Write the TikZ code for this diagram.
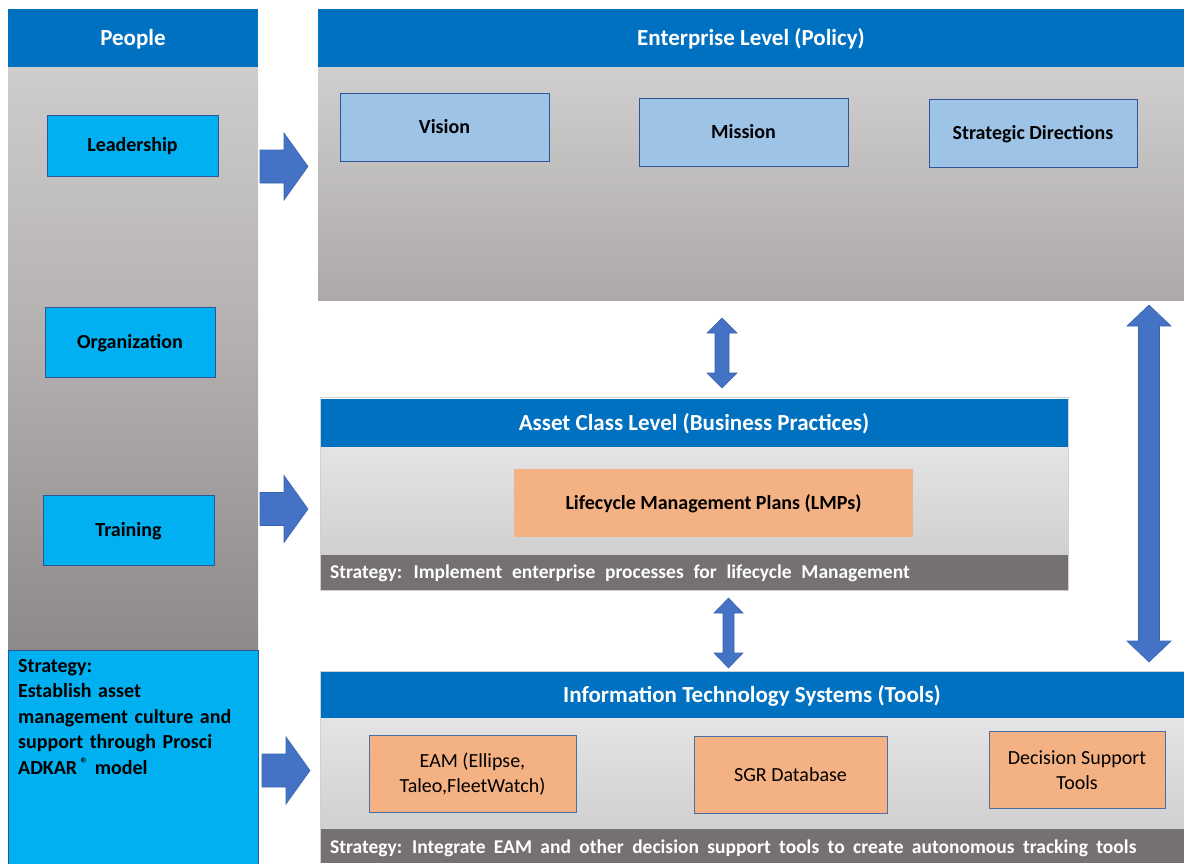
\documentclass[tikz,border=0pt]{standalone}
\usepackage{fontspec}
\setmainfont{Carlito}
\definecolor{hdrblue}{HTML}{0070C0}
\definecolor{skyblue}{HTML}{00B0F0}
\definecolor{paleblue}{HTML}{9DC3E6}
\definecolor{peach}{HTML}{F4B183}
\definecolor{arrowblue}{HTML}{4472C4}
\definecolor{arrowedge}{HTML}{3A64B0}
\definecolor{boxedge}{HTML}{2F5597}
\definecolor{peachedge}{HTML}{4A6FA0}
\definecolor{stratgray}{HTML}{767171}
\definecolor{panelline}{HTML}{D0D0D0}
% wider word gaps for the strategy texts
\newcommand\widegaps[1]{\spaceskip=#1 plus 0.1em\relax}
\tikzset{
  capcentred/.style={text height=#1, text depth=0pt},
  hdr/.style={fill=hdrblue, draw=none, text=white, font=\bfseries\fontsize{23}{27}\selectfont, capcentred=14.8pt},
  cyanbox/.style={fill=skyblue, draw=boxedge, line width=0.8pt, font=\bfseries\fontsize{20}{24}\selectfont, inner sep=0pt, capcentred=12.9pt},
  policybox/.style={fill=paleblue, draw=boxedge, line width=0.8pt, font=\bfseries\fontsize{20}{24}\selectfont, inner sep=0pt, capcentred=12.9pt},
  toolbox/.style={fill=peach, draw=peachedge, line width=0.8pt, font=\fontsize{20}{25}\selectfont, align=center, inner sep=0pt},
  planbox/.style={fill=peach, draw=none, font=\bfseries\fontsize{20}{24}\selectfont, inner sep=0pt, capcentred=12.9pt},
  stratbar/.style={fill=stratgray, draw=none},
  strattext/.style={text=white, font=\bfseries\fontsize{19.5}{23}\selectfont, anchor=west, inner sep=0pt, capcentred=12.6pt},
  blockarrow/.style={fill=arrowblue, draw=arrowedge, line width=0.6pt, line join=miter},
}
\begin{document}
\begin{tikzpicture}[x=1pt, y=-1pt]
\useasboundingbox (0,0) rectangle (1184,863);
\fill[white] (0,0) rectangle (1184,863);

% ---------- People column ----------
\shade[top color={rgb,255:red,206;green,204;blue,204}, bottom color={rgb,255:red,142;green,138;blue,138}, middle color={rgb,255:red,178;green,174;blue,174}]
  (8,66) rectangle (258,650);
\node[hdr, minimum width=250pt, minimum height=58pt] (people) at (133,38) {People};
\node[cyanbox, minimum width=171pt, minimum height=61pt] (lead) at (132.5,145.5) {Leadership};
\node[cyanbox, minimum width=170pt, minimum height=70pt] (org) at (130,342) {Organization};
\node[cyanbox, minimum width=171pt, minimum height=70pt] (train) at (128.5,530) {Training};
\node[fill=skyblue, draw=boxedge, line width=0.6pt, minimum width=250pt, minimum height=216pt, anchor=north west, inner sep=0pt] (pstrat) at (8,650) {};
\node[anchor=north west, inner sep=0pt, align=left, text width=238pt,
      font=\bfseries\fontsize{20}{25.5}\selectfont] (pstrattext) at (18,659)
  {\widegaps{0.33em}Strategy:\\Establish asset\\management culture and\\support through Prosci\\ADKAR\,\raisebox{0.28em}{\fontsize{15}{15}\selectfont ®} model};

% ---------- Enterprise level ----------
\shade[top color={rgb,255:red,208;green,206;blue,206}, bottom color={rgb,255:red,173;green,169;blue,169}]
  (318,66) rectangle (1184,300);
\node[hdr, minimum width=866pt, minimum height=58pt] (ent) at (751,38) {Enterprise Level (Policy)};
\node[policybox, minimum width=209pt, minimum height=68pt] (vision) at (444.5,127) {Vision};
\node[policybox, minimum width=209pt, minimum height=68pt] (mission) at (743.5,132) {Mission};
\node[policybox, minimum width=208pt, minimum height=68pt] (strat) at (1033,133) {Strategic Directions};

% ---------- Asset class level ----------
\shade[top color={rgb,255:red,228;green,228;blue,228}, bottom color={rgb,255:red,208;green,208;blue,208}]
  (320,446) rectangle (1068,555);
\node[hdr, minimum width=748pt, minimum height=48pt] (asset) at (694,423) {Asset Class Level (Business Practices)};
\node[planbox, minimum width=399pt, minimum height=68pt] (lmp) at (713.5,503) {Lifecycle Management Plans (LMPs)};
\node[stratbar, minimum width=748pt, minimum height=35pt, anchor=north west, inner sep=0pt] (abar) at (320,555) {};
\node[strattext] (abartext) at (330,572.5) {\widegaps{0.5em}Strategy: Implement enterprise processes for lifecycle Management};
\draw[panelline, line width=0.8pt] (320,397.5) rectangle (1068,590.5);

% ---------- Information technology systems ----------
\shade[top color={rgb,255:red,228;green,228;blue,228}, bottom color={rgb,255:red,208;green,208;blue,208}]
  (320,718) rectangle (1184,829);
\node[hdr, minimum width=864pt, minimum height=46pt] (its) at (752,695) {Information Technology Systems (Tools)};
\node[toolbox, minimum width=207pt, minimum height=77pt] (eam) at (472.5,774) {EAM (Ellipse,\\Taleo,FleetWatch)};
\node[toolbox, minimum width=193pt, minimum height=77pt] (sgr) at (790.5,774.5) {SGR Database};
\node[toolbox, minimum width=176pt, minimum height=77pt] (dst) at (1077,770) {Decision Support\\Tools};
\node[stratbar, minimum width=864pt, minimum height=34pt, anchor=north west, inner sep=0pt] (ibar) at (320,829) {};
\node[strattext] (ibartext) at (330,847) {\widegaps{0.43em}Strategy: Integrate EAM and other decision support tools to create autonomous tracking tools};
\draw[panelline, line width=0.8pt] (320,671.5) -- (1184,671.5);
\draw[panelline, line width=0.8pt] (320,671.5) -- (320,863);

% ---------- Block arrows: people -> levels ----------
\foreach \cy/\x in {166.5/260, 509/260, 770.5/262}{
  \draw[blockarrow] (\x,\cy-16.5) -- (\x+24,\cy-16.5) -- (\x+24,\cy-33.5) -- (\x+48,\cy)
    -- (\x+24,\cy+33.5) -- (\x+24,\cy+16.5) -- (\x,\cy+16.5) -- cycle;
}

% ---------- Double arrows between levels ----------
\def\dblarrow#1#2#3#4#5#6{% cx, top, bottom, head half-width, shaft half-width, head length
  \draw[blockarrow] (#1,#2) -- (#1+#4,#2+#6) -- (#1+#5,#2+#6) -- (#1+#5,#3-#6) -- (#1+#4,#3-#6)
    -- (#1,#3) -- (#1-#4,#3-#6) -- (#1-#5,#3-#6) -- (#1-#5,#2+#6) -- (#1-#4,#2+#6) -- cycle;}
\dblarrow{722}{318}{388}{15}{7}{15}
\dblarrow{728.5}{598}{668}{14.5}{5.5}{15}
\dblarrow{1149}{305}{662}{22}{10.5}{21}
\end{tikzpicture}
\end{document}
